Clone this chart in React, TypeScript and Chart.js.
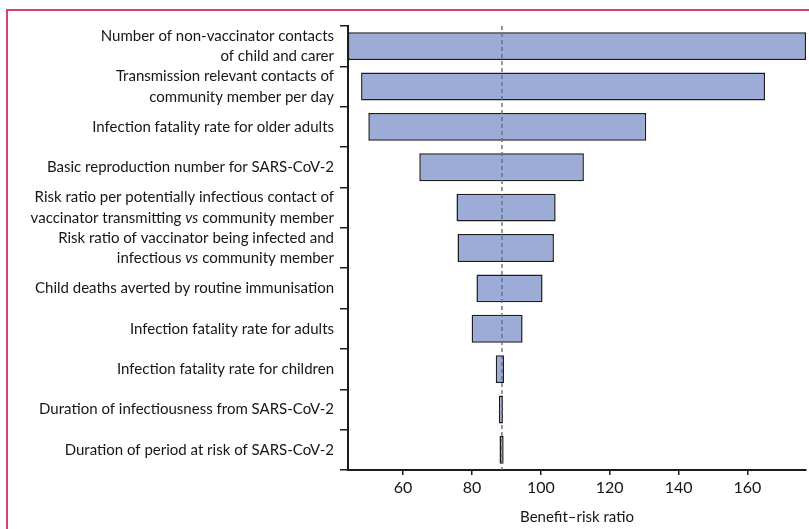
import React, { useEffect, useRef } from "react";
import { Chart, registerables } from "chart.js";

Chart.register(...registerables);

const categories: string[][] = [
  ["Number of non-vaccinator contacts", "of child and carer"],
  ["Transmission relevant contacts of", "community member per day"],
  ["Infection fatality rate for older adults"],
  ["Basic reproduction number for SARS-CoV-2"],
  ["Risk ratio per potentially infectious contact of", "vaccinator transmitting vs community member"],
  ["Risk ratio of vaccinator being infected and", "infectious vs community member"],
  ["Child deaths averted by routine immunisation"],
  ["Infection fatality rate for adults"],
  ["Infection fatality rate for children"],
  ["Duration of infectiousness from SARS-CoV-2"],
  ["Duration of period at risk of SARS-CoV-2"],
];

const lowValues: number[] = [44, 47.8, 49.9, 64.7, 75.5, 75.8, 81.3, 79.9, 86.9, 87.8, 88.0];
const highValues: number[] = [177, 165.1, 130.6, 112.5, 104.3, 103.8, 100.5, 94.7, 89.3, 89.0, 89.2];

const baseValue = 88.7;
const xTicks: number[] = [60, 80, 100, 120, 140, 160];
const xMin = 44;
const xMax = 177;
const xTitle = "Benefit\u2013risk ratio";

const FONT = "Lato, 'Open Sans', sans-serif";
const LABEL_SIZE = 15;
const LABEL_LINE = 20.6;
const TEXT_COLOR = "#161616";

const baselinePlugin = {
  id: "baseline",
  afterDatasetsDraw(chart: any) {
    const { ctx, chartArea, scales } = chart;
    const x = scales.x.getPixelForValue(baseValue);
    ctx.save();
    ctx.strokeStyle = "#5b7384";
    ctx.lineWidth = 1.4;
    ctx.setLineDash([4, 3]);
    ctx.beginPath();
    ctx.moveTo(x, chartArea.top);
    ctx.lineTo(x, chartArea.bottom);
    ctx.stroke();
    ctx.restore();
  },
};

// Draws the category labels so that "vs" can be set in italic, as in the reference.
const labelPlugin = {
  id: "richLabels",
  afterDraw(chart: any) {
    const { ctx, scales } = chart;
    const y = scales.y;
    const right = y.right - 8 - 6;
    const regular = `${LABEL_SIZE}px ${FONT}`;
    const italic = `italic ${LABEL_SIZE}px ${FONT}`;
    ctx.save();
    ctx.fillStyle = TEXT_COLOR;
    ctx.textBaseline = "middle";
    ctx.textAlign = "left";
    categories.forEach((lines, i) => {
      const cy = y.getPixelForTick(i);
      const n = lines.length;
      lines.forEach((line, j) => {
        const ly = cy + (j - (n - 1) / 2) * LABEL_LINE;
        const parts = line.split(/(\bvs\b)/);
        const widths = parts.map((p) => {
          ctx.font = p === "vs" ? italic : regular;
          return ctx.measureText(p).width;
        });
        const total = widths.reduce((a, b) => a + b, 0);
        let x = right - total;
        parts.forEach((p, k) => {
          ctx.font = p === "vs" ? italic : regular;
          ctx.fillText(p, x, ly);
          x += widths[k];
        });
      });
    });
    ctx.restore();
  },
};

export default function App() {
  const ref = useRef<HTMLCanvasElement | null>(null);

  useEffect(() => {
    if (!ref.current) return;
    const chart = new Chart(ref.current, {
      type: "bar",
      data: {
        labels: categories,
        datasets: [
          {
            data: lowValues.map((lo, i) => [lo, highValues[i]]),
            backgroundColor: "#9dacd6",
            borderColor: "#1c1c1c",
            borderWidth: 1.5,
            borderSkipped: false,
            barPercentage: 0.69,
            categoryPercentage: 1,
          } as any,
        ],
      },
      options: {
        indexAxis: "y",
        animation: false,
        responsive: false,
        maintainAspectRatio: false,
        layout: { padding: { top: 26, right: 3, bottom: 0, left: 0 } },
        plugins: {
          legend: { display: false },
          tooltip: { enabled: false },
        },
        scales: {
          x: {
            type: "linear",
            min: xMin,
            max: xMax,
            afterBuildTicks: (scale: any) => {
              scale.ticks = xTicks.map((v) => ({ value: v }));
            },
            afterFit: (scale: any) => {
              scale.height = 59;
            },
            grid: {
              drawOnChartArea: false,
              drawTicks: true,
              tickLength: 5,
              color: "#1c1c1c",
              lineWidth: 1.5,
            },
            border: { display: true, color: "#1c1c1c", width: 2 },
            ticks: {
              color: TEXT_COLOR,
              padding: 3,
              font: { family: FONT, size: 16 },
            },
            title: {
              display: true,
              text: xTitle,
              color: TEXT_COLOR,
              font: { family: FONT, size: 15 },
              padding: { top: 0, bottom: 3 },
            },
          },
          y: {
            type: "category",
            offset: true,
            afterFit: (scale: any) => {
              scale.width = 348;
            },
            grid: {
              offset: true,
              drawOnChartArea: false,
              drawTicks: true,
              tickLength: 8,
              color: "#1c1c1c",
              lineWidth: 1.5,
            },
            border: { display: true, color: "#1c1c1c", width: 2 },
            ticks: {
              color: "rgba(0,0,0,0)",
              padding: 6,
              autoSkip: false,
              font: { family: FONT, size: LABEL_SIZE, lineHeight: 1.37 },
            },
          },
        },
      },
      plugins: [baselinePlugin, labelPlugin],
    });
    return () => chart.destroy();
  }, []);

  return (
    <div style={{ position: "fixed", left: 0, top: 0, width: 809, height: 529, background: "#fff", overflow: "hidden" }}>
      <div
        style={{
          position: "absolute",
          left: 6,
          top: 9,
          width: 900,
          height: 700,
          borderTop: "2px solid #d9416b",
          borderLeft: "2px solid #d9416b",
        }}
      />
      <canvas ref={ref} width={809} height={529} style={{ position: "absolute", left: 0, top: 0 }} />
    </div>
  );
}
